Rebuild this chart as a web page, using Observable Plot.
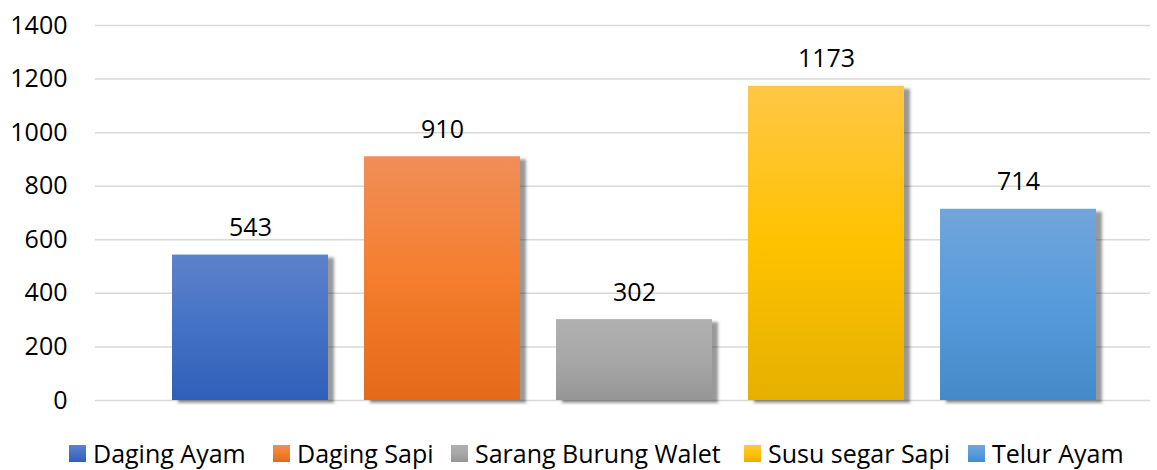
<!DOCTYPE html>
<html>
<head>
<meta charset="utf-8">
<script src="https://cdn.jsdelivr.net/npm/d3@7"></script>
<script src="https://cdn.jsdelivr.net/npm/@observablehq/plot@0.6"></script>
<style>
  html, body { margin: 0; padding: 0; background: #fff; }
  #chart svg { display: block; }
  #legend { position: relative; height: 32px; margin-top: 3px; font-family: "Open Sans", sans-serif; font-size: 25px; line-height: 30px; color: #000; white-space: nowrap; }
  .item { position: absolute; top: 0; display: flex; align-items: flex-start; }
  .sw { width: 17px; height: 17px; margin-top: 7px; margin-right: 7px; }
</style>
</head>
<body>
<div id="chart"></div>
<div id="legend"></div>
<script>
// ---- data ----
const categories = ["Daging Ayam", "Daging Sapi", "Sarang Burung Walet", "Susu segar Sapi", "Telur Ayam"];
const values = [543, 910, 302, 1173, 714];
const yTicks = [0, 200, 400, 600, 800, 1000, 1200, 1400];

// ---- styles ----
const gradTop = ["#5e82cc", "#f08e59", "#b0b0b0", "#ffc746", "#72a5da"];
const gradMid = ["#4472c4", "#f47e2e", "#a8a8a8", "#ffc200", "#579bdc"];
const gradBot = ["#2f5fb8", "#e36a18", "#959595", "#e5b000", "#4589c8"];
const legendLeft = [69, 273, 451, 744, 968];

const data = categories.map((c, i) => ({category: c, value: values[i]}));
const gradIds = categories.map((c, i) => `grad${i}`);

const plot = Plot.plot({
  width: 1157,
  height: 435,
  marginTop: 25,
  marginBottom: 35,
  marginLeft: 95,
  marginRight: 7,
  style: {fontFamily: "Open Sans", fontSize: "25px", color: "#000", background: "#fff"},
  x: {domain: categories, range: [154, 1114], paddingInner: 0.1875, paddingOuter: 0.09375, axis: null},
  y: {domain: [0, 1400], ticks: yTicks, tickSize: 0, tickPadding: 28, label: null, tickFormat: d => String(d)},
  color: {type: "ordinal", domain: categories, range: gradIds.map(id => `url(#${id})`)},
  marks: [
    Plot.ruleY(yTicks, {stroke: "#d9d9d9", strokeWidth: 1.5}),
    Plot.barY(data, {x: "category", y: "value", fill: "#000", fillOpacity: 0.4, dx: 6, dy: 3}),
    Plot.barY(data, {x: "category", y: "value", fill: "category"}),
    Plot.text(data, {x: "category", y: "value", text: d => String(d.value), dy: -19, lineAnchor: "bottom", fontSize: 25, fill: "#000"})
  ]
});

// gradients and shadow filter
const svg = d3.select(plot);
const defs = svg.insert("defs", ":first-child");
gradIds.forEach((id, i) => {
  const g = defs.append("linearGradient").attr("id", id).attr("x1", 0).attr("y1", 0).attr("x2", 0).attr("y2", 1);
  g.append("stop").attr("offset", "0%").attr("stop-color", gradTop[i]);
  g.append("stop").attr("offset", "50%").attr("stop-color", gradMid[i]);
  g.append("stop").attr("offset", "100%").attr("stop-color", gradBot[i]);
});
const f = defs.append("filter").attr("id", "shadowBlur").attr("x", "-5%").attr("y", "-5%").attr("width", "110%").attr("height", "110%");
f.append("feGaussianBlur").attr("stdDeviation", 1.8);
svg.selectAll("g[aria-label='bar']").filter((d, i) => i === 0).attr("filter", "url(#shadowBlur)");

document.getElementById("chart").appendChild(plot);

// legend
const legend = d3.select("#legend");
categories.forEach((c, i) => {
  const item = legend.append("div").attr("class", "item").style("left", legendLeft[i] + "px");
  item.append("div").attr("class", "sw").style("background", `linear-gradient(${gradTop[i]}, ${gradMid[i]}, ${gradBot[i]})`);
  item.append("span").text(c);
});
</script>
</body>
</html>
